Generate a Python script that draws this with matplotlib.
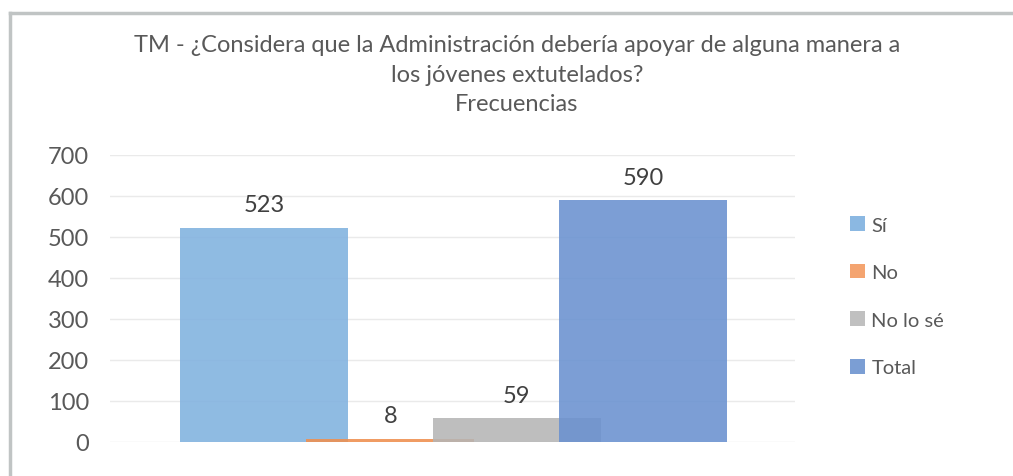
import matplotlib
matplotlib.use("Agg")
import matplotlib.pyplot as plt
from matplotlib.lines import Line2D
from matplotlib.patches import Patch

categories = ["Sí", "No", "No lo sé", "Total"]
values = [523, 8, 59, 590]
face_colors = ["#80B2DF", "#EF8F4E", "#B5B5B5", "#6A91D0"]
legend_colors = ["#8BB8E2", "#F4A470", "#C0C0C0", "#7B9ED4"]
yticks = [0, 100, 200, 300, 400, 500, 600, 700]
title = ("TM - ¿Considera que la Administración debería apoyar de alguna manera a\n"
         "los jóvenes extutelados?\nFrecuencias")

plt.rcParams['font.family'] = ['Lato', 'DejaVu Sans']
W, H = 1013, 477
fig = plt.figure(figsize=(W / 100, H / 100), dpi=100)
fig.patch.set_facecolor("white")

# plot area in pixels
x0, x1 = 110, 795
y0, y1 = 443, 156  # 0 and 700
ax = fig.add_axes([x0 / W, 1 - y0 / H, (x1 - x0) / W, (y0 - y1) / H])

spacing = 126.5
width = 168 / spacing
xs = list(range(len(categories)))
for i, (v, c) in enumerate(zip(values, face_colors)):
    ax.bar(xs[i], v, width=width, color=c, alpha=0.88, zorder=2 + i,
           label=categories[i])
    ax.text(xs[i], v + 30, str(v), ha="center", va="bottom", fontsize=17,
            color="#404040", zorder=10)

ax.set_xlim(-(264 - x0) / spacing, 3 + (x1 - 643) / spacing)
ax.set_ylim(0, 700)
ax.set_yticks(yticks)
ax.set_xticks([])
ax.tick_params(axis="y", length=0, pad=15, labelsize=17, labelcolor="#595959")
for s in ax.spines.values():
    s.set_visible(False)
ax.grid(axis="y", color="#EAEAEA", linewidth=1, zorder=0)
ax.set_axisbelow(True)

# title
fig.text(517 / W, 1 - 35 / H, title, ha="center", va="top", fontsize=17,
         color="#595959", linespacing=1.5)

# legend
handles = [Patch(facecolor=c, edgecolor="none") for c in legend_colors]
leg = fig.legend(handles, categories, loc="upper left",
                 bbox_to_anchor=(832 / W, 1 - 199 / H), frameon=False,
                 fontsize=14.5, labelcolor="#595959", handlelength=0.75,
                 handleheight=0.75, handletextpad=0.3, labelspacing=1.5)

# border lines
fig.add_artist(Line2D([9.5 / W, 1.0], [1 - 14 / H, 1 - 14 / H], color="#C0C4C4", lw=2.5,
                      transform=fig.transFigure))
fig.add_artist(Line2D([9.5 / W, 9.5 / W], [1 - 14 / H, 0], color="#C0C4C4", lw=2.5,
                      transform=fig.transFigure))

fig.savefig("out.png", dpi=100)
